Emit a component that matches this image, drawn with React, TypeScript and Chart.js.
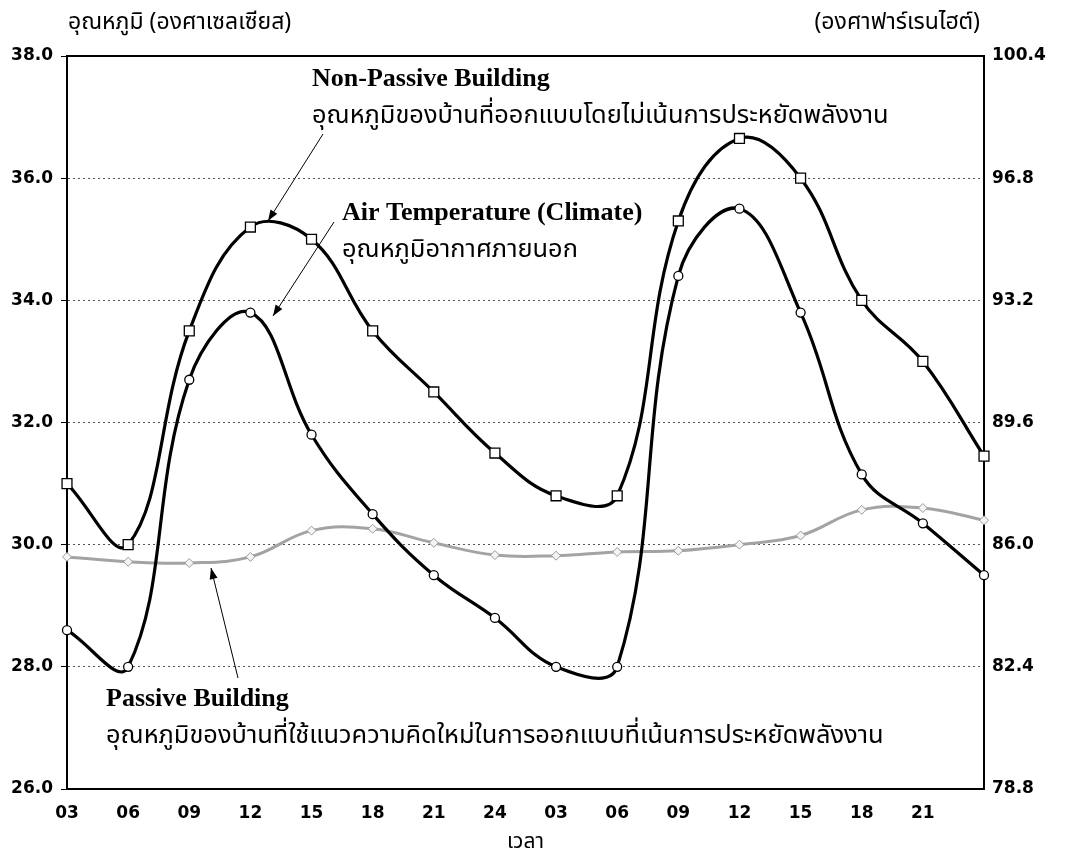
import React, { useEffect, useRef } from "react";
import { Chart, registerables } from "chart.js";

Chart.register(...registerables);

// ---- data ----
const timeLabels = ["03", "06", "09", "12", "15", "18", "21", "24", "03", "06", "09", "12", "15", "18", "21", ""];
const nonPassive = [31.0, 30.0, 33.5, 35.2, 35.0, 33.5, 32.5, 31.5, 30.8, 30.8, 35.3, 36.65, 36.0, 34.0, 33.0, 31.45];
const airTemp = [28.6, 28.0, 32.7, 33.8, 31.8, 30.5, 29.5, 28.8, 28.0, 28.0, 34.4, 35.5, 33.8, 31.15, 30.35, 29.5];
const passive = [29.8, 29.72, 29.7, 29.8, 30.23, 30.26, 30.03, 29.83, 29.82, 29.88, 29.9, 30.0, 30.15, 30.57, 30.6, 30.4];
const celsiusTicks = [26, 28, 30, 32, 34, 36, 38];
const fahrenheitTicks = [78.8, 82.4, 86.0, 89.6, 93.2, 96.8, 100.4];

const THAI = "'Noto Sans Thai', 'Noto Serif Thai', 'Loma', 'Garuda', 'Norasi', 'Tlwg Typo', 'DejaVu Sans', sans-serif";
const SERIF = "'Liberation Serif', 'DejaVu Serif', serif";
const TICKFONT = "'DejaVu Sans', 'Liberation Sans', sans-serif";

function arrow(ctx: CanvasRenderingContext2D, x1: number, y1: number, x2: number, y2: number) {
  ctx.save();
  ctx.strokeStyle = "#000";
  ctx.fillStyle = "#000";
  ctx.lineWidth = 1;
  ctx.beginPath();
  ctx.moveTo(x1, y1);
  ctx.lineTo(x2, y2);
  ctx.stroke();
  const a = Math.atan2(y2 - y1, x2 - x1);
  const L = 11;
  const W = 4;
  ctx.beginPath();
  ctx.moveTo(x2, y2);
  ctx.lineTo(x2 - L * Math.cos(a) + W * Math.sin(a), y2 - L * Math.sin(a) - W * Math.cos(a));
  ctx.lineTo(x2 - L * Math.cos(a) - W * Math.sin(a), y2 - L * Math.sin(a) + W * Math.cos(a));
  ctx.closePath();
  ctx.fill();
  ctx.restore();
}

const decorPlugin = {
  id: "decor",
  afterDraw(chart: any) {
    const ctx: CanvasRenderingContext2D = chart.ctx;
    const { left, right, top } = chart.chartArea;
    ctx.save();
    // top frame line
    ctx.strokeStyle = "#000";
    ctx.lineWidth = 2;
    ctx.beginPath();
    ctx.moveTo(left - 1, top);
    ctx.lineTo(right + 1, top);
    ctx.stroke();

    ctx.fillStyle = "#000";
    ctx.textBaseline = "alphabetic";
    // axis titles
    ctx.font = `23px ${THAI}`;
    ctx.textAlign = "left";
    ctx.fillText("อุณหภูมิ (องศาเซลเซียส)", 68, 29);
    ctx.textAlign = "right";
    ctx.fillText("(องศาฟาร์เรนไฮต์)", 980, 29);

    // annotations
    ctx.textAlign = "left";
    ctx.font = `bold 26px ${SERIF}`;
    ctx.fillText("Non-Passive Building", 312, 86);
    ctx.fillText("Air Temperature (Climate)", 342, 220);
    ctx.fillText("Passive Building", 106, 706);
    ctx.font = `25.4px ${THAI}`;
    ctx.fillText("อุณหภูมิของบ้านที่ออกแบบโดยไม่เน้นการประหยัดพลังงาน", 312, 123);
    ctx.fillText("อุณหภูมิอากาศภายนอก", 342, 257);
    ctx.fillText("อุณหภูมิของบ้านที่ใช้แนวความคิดใหม่ในการออกแบบที่เน้นการประหยัดพลังงาน", 106, 743);
    ctx.restore();

    arrow(ctx, 323, 134, 268, 221);
    arrow(ctx, 334, 222, 273, 316);
    arrow(ctx, 238, 678, 211, 568);
  },
};

export default function App() {
  const ref = useRef<HTMLCanvasElement | null>(null);

  useEffect(() => {
    if (!ref.current) return;
    const chart = new Chart(ref.current, {
      type: "line",
      data: {
        labels: timeLabels,
        datasets: [
          {
            label: "Non-Passive Building",
            data: nonPassive,
            borderColor: "#000",
            borderWidth: 3.2,
            tension: 0.4,
            pointStyle: "rect",
            pointRadius: 7,
            pointBackgroundColor: "#fff",
            pointBorderColor: "#000",
            pointBorderWidth: 1.3,
            yAxisID: "y",
            clip: false as any,
          },
          {
            label: "Air Temperature (Climate)",
            data: airTemp,
            borderColor: "#000",
            borderWidth: 3.2,
            tension: 0.4,
            pointStyle: "circle",
            pointRadius: 4.5,
            pointBackgroundColor: "#fff",
            pointBorderColor: "#000",
            pointBorderWidth: 1.3,
            yAxisID: "y",
            clip: false as any,
          },
          {
            label: "Passive Building",
            data: passive,
            borderColor: "#a3a3a3",
            borderWidth: 3,
            tension: 0.4,
            pointStyle: "rectRot",
            pointRadius: 4.5,
            pointBackgroundColor: "#f4f4f4",
            pointBorderColor: "#9a9a9a",
            pointBorderWidth: 1,
            yAxisID: "y",
            clip: false as any,
          },
        ],
      },
      options: {
        animation: false,
        responsive: false,
        devicePixelRatio: 1,
        layout: { padding: { top: 56, left: 0, right: 0, bottom: 0 } },
        plugins: { legend: { display: false }, tooltip: { enabled: false }, title: { display: false } },
        scales: {
          x: {
            type: "category",
            offset: false,
            grid: { display: true, drawOnChartArea: false, drawTicks: false },
            border: { display: true, color: "#000", width: 2 },
            ticks: {
              color: "#000",
              font: { family: TICKFONT, size: 17, weight: "bold" },
              padding: 14,
              maxRotation: 0,
              autoSkip: false,
            },
            title: {
              display: true,
              text: "เวลา",
              color: "#000",
              font: { family: THAI, size: 21 },
              padding: { top: 2, bottom: 2 },
            },
            afterFit: (scale: any) => {
              scale.height = 69;
            },
          },
          y: {
            type: "linear",
            position: "left",
            min: 26,
            max: 38,
            afterBuildTicks: (scale: any) => {
              scale.ticks = celsiusTicks.map((v) => ({ value: v }));
            },
            grid: {
              color: "#555",
              lineWidth: 1,
              drawTicks: true,
              tickLength: 6,
              tickColor: "#000",
              tickWidth: 1,
            } as any,
            border: { display: true, color: "#000", width: 2, dash: [2, 3] },
            ticks: {
              color: "#000",
              font: { family: TICKFONT, size: 17, weight: "bold" },
              padding: 8,
              callback: (v: any) => Number(v).toFixed(1),
            },
            afterFit: (scale: any) => {
              scale.width = 67;
            },
          },
          y2: {
            type: "linear",
            position: "right",
            min: 78.8,
            max: 100.4,
            afterBuildTicks: (scale: any) => {
              scale.ticks = fahrenheitTicks.map((v) => ({ value: v }));
            },
            grid: { drawOnChartArea: false, drawTicks: false },
            border: { display: true, color: "#000", width: 2 },
            ticks: {
              color: "#000",
              font: { family: TICKFONT, size: 17, weight: "bold" },
              padding: 8,
              callback: (v: any) => Number(v).toFixed(1),
            },
            afterFit: (scale: any) => {
              scale.width = 85;
            },
          },
        },
      },
      plugins: [decorPlugin],
    });
    return () => chart.destroy();
  }, []);

  return (
    <div style={{ position: "absolute", left: 0, top: 0, width: 1069, height: 858, background: "#fff" }}>
      <canvas ref={ref} width={1069} height={858} />
    </div>
  );
}
